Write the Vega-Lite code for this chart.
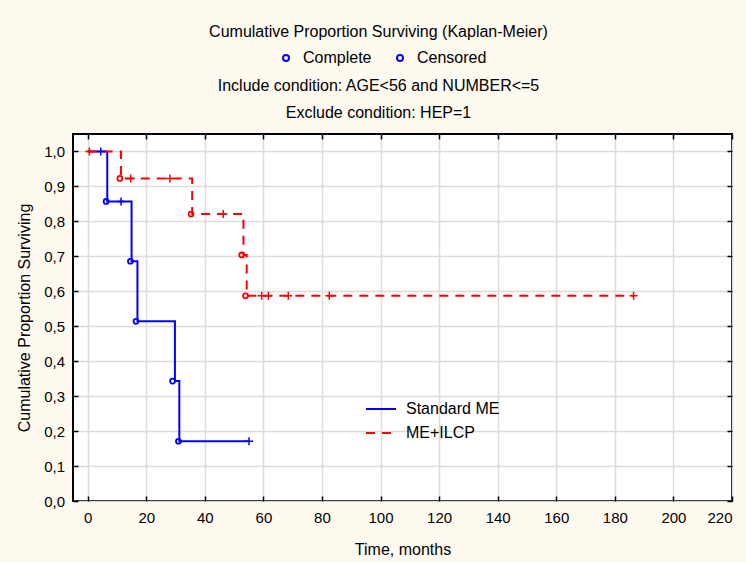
{
  "$schema": "https://vega.github.io/schema/vega-lite/v6.json",
  "width": 659,
  "height": 367,
  "autosize": {"type": "none"},
  "padding": {"left": 73, "top": 134, "right": 14, "bottom": 61},
  "background": "#fffaf0",
  "config": {
    "font": "Liberation Sans",
    "view": {"fill": "white", "stroke": "black", "strokeWidth": 2},
    "axis": {
      "labelFont": "Liberation Sans", "labelFontSize": 15, "labelColor": "black",
      "titleFont": "Liberation Sans", "titleFontSize": 16, "titleFontWeight": "normal", "titleColor": "black",
      "gridColor": "#dcdcdc", "gridWidth": 1.5, "domain": false,
      "tickColor": "black", "tickWidth": 1.5, "tickSize": -5
    },
    "legend": {"labelFont": "Liberation Sans", "labelFontSize": 16, "labelColor": "black", "padding": 0}
  },
  "title": {
    "text": "Cumulative Proportion Surviving (Kaplan-Meier)",
    "subtitle": ["Include condition: AGE<56 and NUMBER<=5", "Exclude condition: HEP=1"],
    "font": "Liberation Sans", "fontSize": 16, "fontWeight": "normal", "color": "black", "lineHeight": 16,
    "subtitleFont": "Liberation Sans", "subtitleFontSize": 16, "subtitleColor": "black", "subtitleLineHeight": 26.7, "subtitlePadding": 38,
    "anchor": "middle", "frame": "group", "dx": -24, "dy": 87, "offset": 16
  },
  "datasets": {
    "steps": [
      {"series": "Standard ME", "time": 0, "surv": 1.0},
      {"series": "Standard ME", "time": 6.7, "surv": 0.857},
      {"series": "Standard ME", "time": 15.0, "surv": 0.686},
      {"series": "Standard ME", "time": 17.0, "surv": 0.514},
      {"series": "Standard ME", "time": 29.8, "surv": 0.343},
      {"series": "Standard ME", "time": 31.3, "surv": 0.171},
      {"series": "Standard ME", "time": 55.1, "surv": 0.171},
      {"series": "ME+ILCP", "time": 0, "surv": 1.0},
      {"series": "ME+ILCP", "time": 11.4, "surv": 0.923},
      {"series": "ME+ILCP", "time": 35.7, "surv": 0.821},
      {"series": "ME+ILCP", "time": 53.2, "surv": 0.704},
      {"series": "ME+ILCP", "time": 54.3, "surv": 0.587},
      {"series": "ME+ILCP", "time": 186.5, "surv": 0.587}
    ],
    "complete": [
      {"series": "Standard ME", "kind": "Complete", "time": 6.3, "surv": 0.857},
      {"series": "Standard ME", "kind": "Complete", "time": 14.6, "surv": 0.686},
      {"series": "Standard ME", "kind": "Complete", "time": 16.5, "surv": 0.514},
      {"series": "Standard ME", "kind": "Complete", "time": 29.0, "surv": 0.343},
      {"series": "Standard ME", "kind": "Complete", "time": 31.0, "surv": 0.171},
      {"series": "ME+ILCP", "kind": "Complete", "time": 11.0, "surv": 0.923},
      {"series": "ME+ILCP", "kind": "Complete", "time": 35.3, "surv": 0.821},
      {"series": "ME+ILCP", "kind": "Complete", "time": 52.6, "surv": 0.704},
      {"series": "ME+ILCP", "kind": "Complete", "time": 53.9, "surv": 0.587}
    ],
    "censored": [
      {"series": "Standard ME", "kind": "Censored", "time": 4.5, "surv": 1.0},
      {"series": "Standard ME", "kind": "Censored", "time": 11.4, "surv": 0.857},
      {"series": "Standard ME", "kind": "Censored", "time": 55.1, "surv": 0.171},
      {"series": "ME+ILCP", "kind": "Censored", "time": 0.6, "surv": 1.0},
      {"series": "ME+ILCP", "kind": "Censored", "time": 14.7, "surv": 0.923},
      {"series": "ME+ILCP", "kind": "Censored", "time": 28.1, "surv": 0.923},
      {"series": "ME+ILCP", "kind": "Censored", "time": 46.3, "surv": 0.821},
      {"series": "ME+ILCP", "kind": "Censored", "time": 59.4, "surv": 0.587},
      {"series": "ME+ILCP", "kind": "Censored", "time": 61.7, "surv": 0.587},
      {"series": "ME+ILCP", "kind": "Censored", "time": 68.5, "surv": 0.587},
      {"series": "ME+ILCP", "kind": "Censored", "time": 82.5, "surv": 0.587},
      {"series": "ME+ILCP", "kind": "Censored", "time": 186.4, "surv": 0.587}
    ]
  },
  "resolve": {"axis": {"x": "independent", "y": "independent"}},
  "layer": [
    {
      "data": {"name": "steps"},
      "transform": [{"filter": "datum.series === 'Standard ME'"}],
      "mark": {"type": "line", "interpolate": "step-after", "strokeWidth": 2},
      "encoding": {
        "x": {"field": "time", "type": "quantitative",
          "scale": {"domain": [-5, 220], "nice": false, "zero": false},
          "axis": {"orient": "bottom", "values": [0, 20, 40, 60, 80, 100, 120, 140, 160, 180, 200, 220], "title": "Time, months", "grid": true, "labelPadding": 14, "titlePadding": 16}},
        "y": {"field": "surv", "type": "quantitative",
          "scale": {"domain": [0, 1.05], "nice": false, "zero": true},
          "axis": {"orient": "left", "values": [0, 0.1, 0.2, 0.3, 0.4, 0.5, 0.6, 0.7, 0.8, 0.9, 1.0], "labelExpr": "replace(format(datum.value, '.1f'), '.', ',')", "title": "Cumulative Proportion Surviving", "grid": true, "labelPadding": 13.5, "titlePadding": 11}},
        "color": {"field": "series", "type": "nominal",
          "scale": {"domain": ["Standard ME", "ME+ILCP"], "range": ["#0000ff", "#ff0000"]},
          "legend": {"title": null, "orient": "none", "legendX": 292, "legendY": 259, "symbolType": "stroke", "symbolSize": 900, "symbolStrokeWidth": 2, "labelOffset": 9, "rowPadding": -3}},
        "strokeDash": {"field": "series", "type": "nominal",
          "scale": {"domain": ["Standard ME", "ME+ILCP"], "range": [[1, 0], [9, 7]]},
          "legend": {"title": null, "orient": "none", "legendX": 292, "legendY": 259, "symbolType": "stroke", "symbolSize": 900, "symbolStrokeWidth": 2, "labelOffset": 9, "rowPadding": -3}}
      }
    },
    {
      "data": {"name": "steps"},
      "transform": [{"filter": "datum.series === 'ME+ILCP'"}],
      "mark": {"type": "line", "interpolate": "step-after", "strokeWidth": 2},
      "encoding": {
        "x": {"field": "time", "type": "quantitative",
          "axis": {"orient": "top", "values": [0, 20, 40, 60, 80, 100, 120, 140, 160, 180, 200, 220], "title": null, "labels": false, "grid": false}},
        "y": {"field": "surv", "type": "quantitative",
          "axis": {"orient": "right", "values": [0, 0.1, 0.2, 0.3, 0.4, 0.5, 0.6, 0.7, 0.8, 0.9, 1.0], "title": null, "labels": false, "grid": false}},
        "color": {"field": "series", "type": "nominal",
          "legend": {"title": null, "orient": "none", "legendX": 292, "legendY": 259, "symbolType": "stroke", "symbolSize": 900, "symbolStrokeWidth": 2, "labelOffset": 9, "rowPadding": -3}},
        "strokeDash": {"field": "series", "type": "nominal",
          "legend": {"title": null, "orient": "none", "legendX": 292, "legendY": 259, "symbolType": "stroke", "symbolSize": 900, "symbolStrokeWidth": 2, "labelOffset": 9, "rowPadding": -3}}
      }
    },
    {
      "data": {"name": "complete"},
      "transform": [{"filter": "datum.series === 'Standard ME'"}],
      "mark": {"type": "point", "filled": false, "color": "#0000ff", "strokeWidth": 1.8, "size": 24, "opacity": 1},
      "encoding": {
        "x": {"field": "time", "type": "quantitative", "axis": null},
        "y": {"field": "surv", "type": "quantitative", "axis": null},
        "shape": {"field": "kind", "type": "nominal",
          "scale": {"domain": ["Complete", "Censored"], "range": ["circle", "circle"]},
          "legend": {"title": null, "orient": "none", "direction": "horizontal", "legendX": 205, "legendY": -84, "symbolStrokeColor": "#0000ff", "symbolFillColor": "transparent", "symbolStrokeWidth": 2, "symbolSize": 36, "labelOffset": 9, "columnPadding": 20}}
      }
    },
    {
      "data": {"name": "complete"},
      "transform": [{"filter": "datum.series === 'ME+ILCP'"}],
      "mark": {"type": "point", "filled": false, "color": "#ff0000", "strokeWidth": 1.8, "size": 24, "opacity": 1},
      "encoding": {
        "x": {"field": "time", "type": "quantitative", "axis": null},
        "y": {"field": "surv", "type": "quantitative", "axis": null},
        "shape": {"field": "kind", "type": "nominal",
          "legend": {"title": null, "orient": "none", "direction": "horizontal", "legendX": 205, "legendY": -84, "symbolStrokeColor": "#0000ff", "symbolFillColor": "transparent", "symbolStrokeWidth": 2, "symbolSize": 36, "labelOffset": 9, "columnPadding": 20}}
      }
    },
    {
      "data": {"name": "censored"},
      "transform": [{"filter": "datum.series === 'Standard ME'"}],
      "mark": {"type": "point", "filled": false, "color": "#0000ff", "shape": "M-1,0H1M0,-1V1", "strokeWidth": 1.5, "size": 64, "opacity": 1},
      "encoding": {
        "x": {"field": "time", "type": "quantitative", "axis": null},
        "y": {"field": "surv", "type": "quantitative", "axis": null}
      }
    },
    {
      "data": {"name": "censored"},
      "transform": [{"filter": "datum.series === 'ME+ILCP'"}],
      "mark": {"type": "point", "filled": false, "color": "#ff0000", "shape": "M-1,0H1M0,-1V1", "strokeWidth": 1.5, "size": 64, "opacity": 1},
      "encoding": {
        "x": {"field": "time", "type": "quantitative", "axis": null},
        "y": {"field": "surv", "type": "quantitative", "axis": null}
      }
    }
  ]
}
